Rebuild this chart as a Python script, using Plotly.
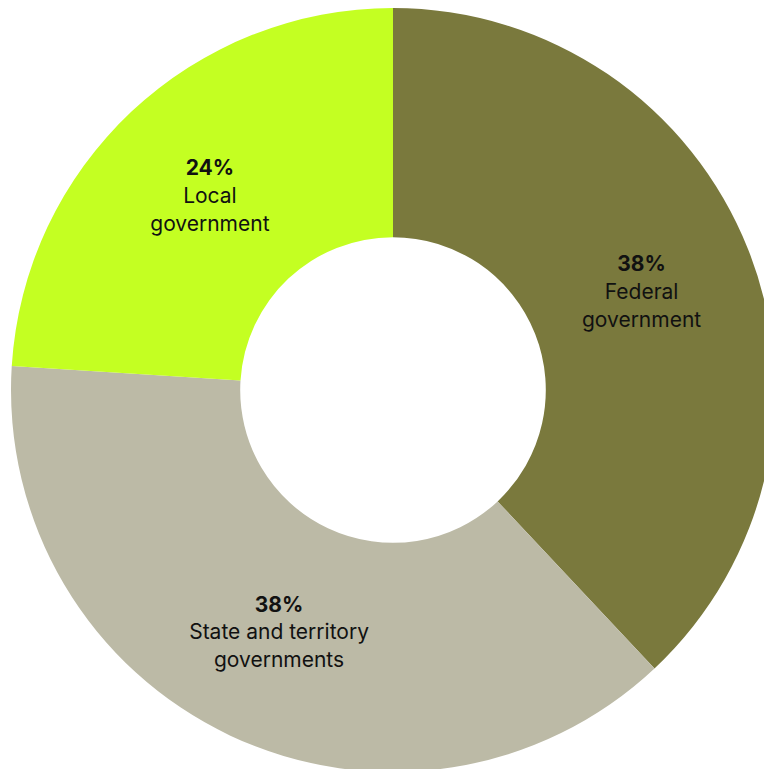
import plotly.graph_objects as go

# Share of funding by level of government
labels = ["Federal<br>government", "State and territory<br>governments", "Local<br>government"]
values = [38, 38, 24]
colors = ["#7a793d", "#bcbaa6", "#c4ff22"]

W, H = 786, 780
# pie occupies a 764px square centred at (393, 390)
x0, x1 = 11, 775
y_top, y_bot = 8, 772

fig = go.Figure(
    go.Pie(
        labels=labels,
        values=values,
        sort=False,
        direction="clockwise",
        rotation=0,
        hole=0.40,
        marker=dict(colors=colors, line=dict(width=0)),
        texttemplate='<span style="font-size:21px"><b>%{percent:.0%}</b><br>%{label}</span>',
        textposition="inside",
        insidetextorientation="horizontal",
        textfont=dict(family="Inter, Roboto, sans-serif", size=21.5, color="#111111"),
        hoverinfo="skip",
        showlegend=False,
        domain=dict(x=[x0 / W, x1 / W], y=[(H - y_bot) / H, (H - y_top) / H]),
    )
)

fig.update_layout(
    width=W,
    height=H,
    margin=dict(l=0, r=0, t=0, b=0),
    paper_bgcolor="white",
    plot_bgcolor="white",
)

fig.write_html(
    "out.html",
    config={"displayModeBar": False},
    post_script="document.documentElement.style.overflow='hidden';document.body.style.overflow='hidden';document.body.style.margin='0';",
)
